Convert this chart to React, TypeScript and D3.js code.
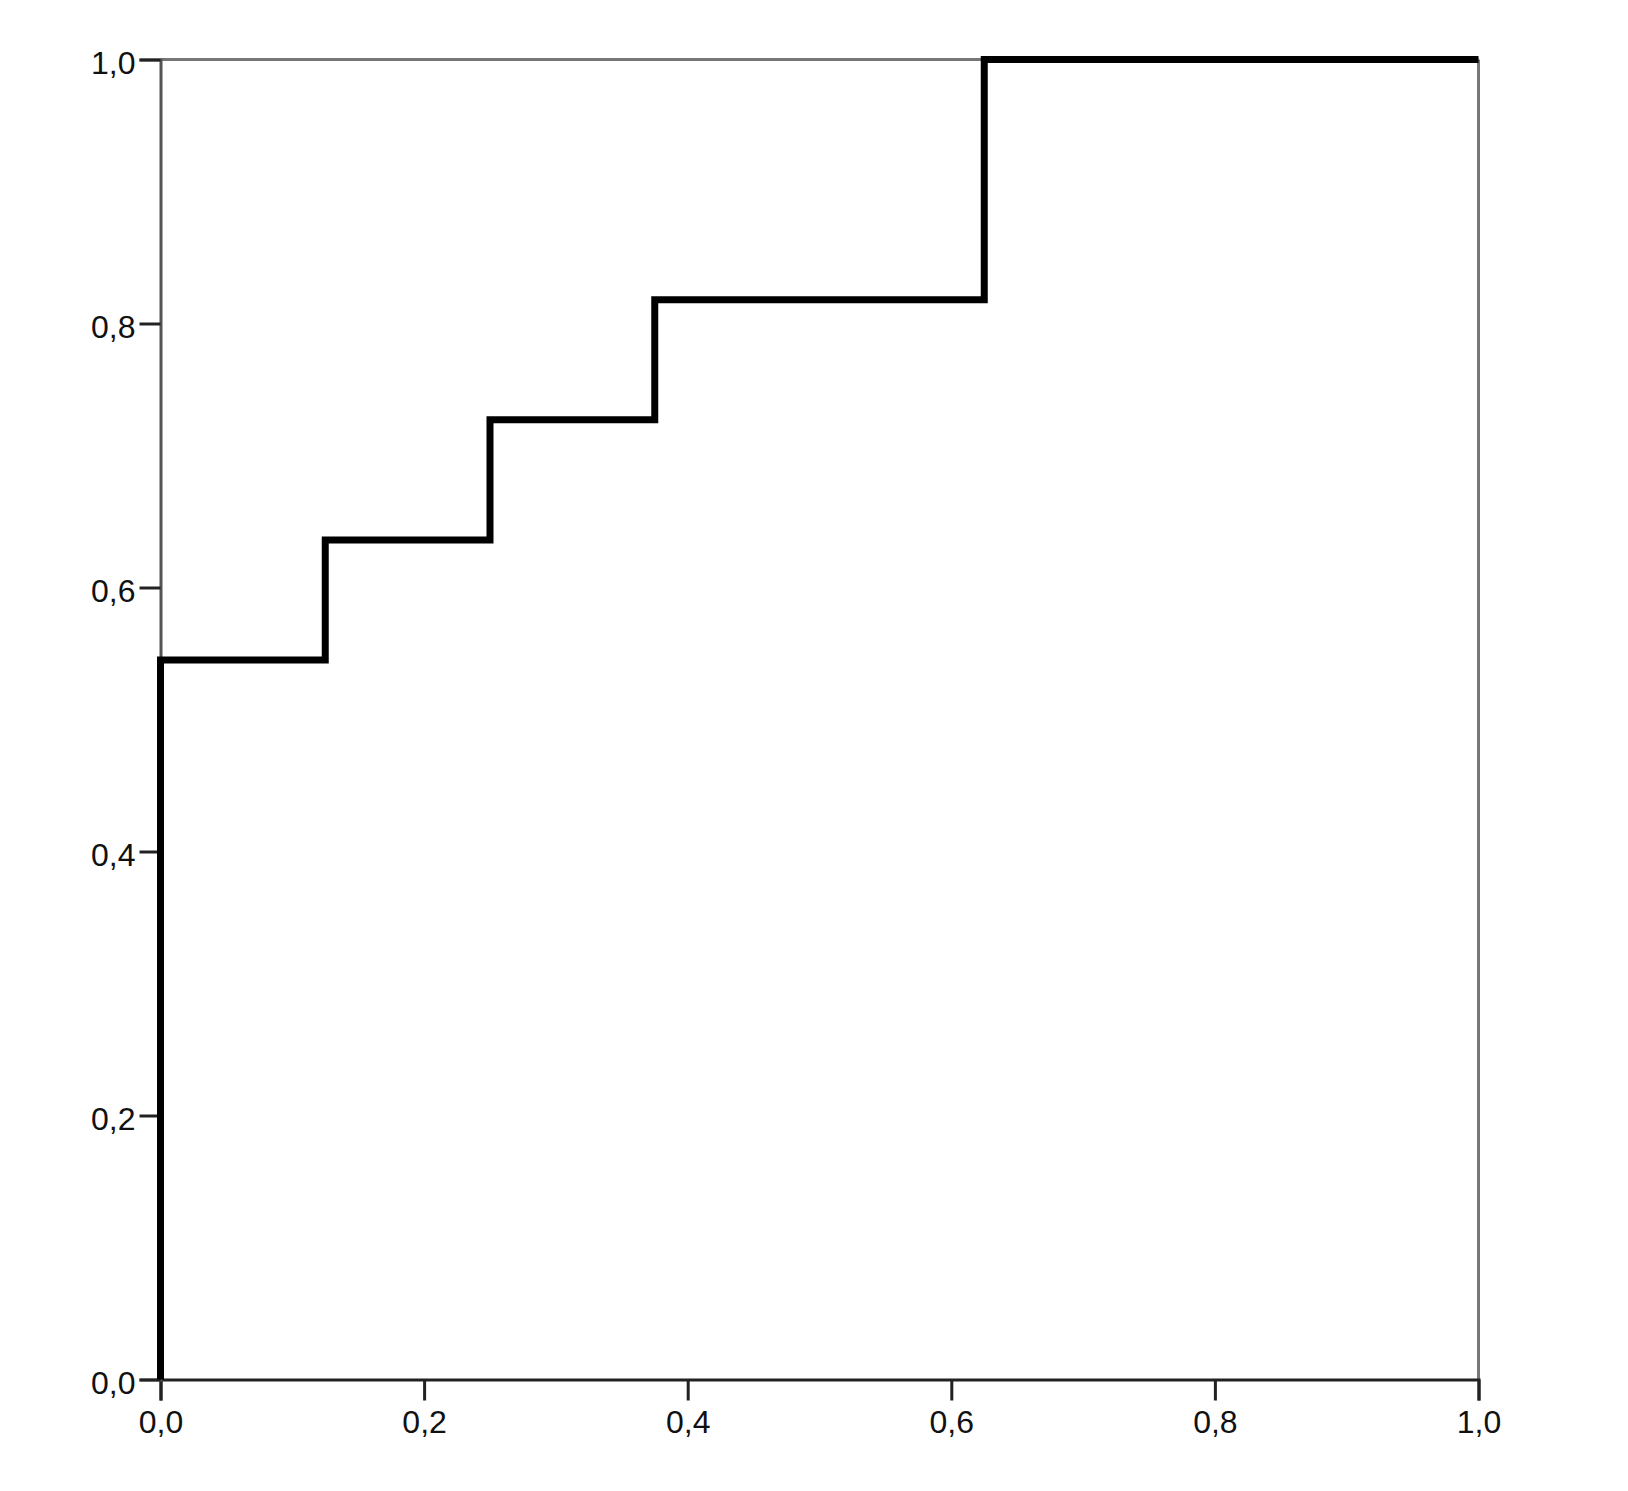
import React, { useRef, useEffect } from 'react';
import * as d3 from 'd3';

// ROC curve: 1 - specificity (x) vs sensitivity (y)
const fprValues = [0, 0, 0.125, 0.125, 0.25, 0.25, 0.375, 0.375, 0.625, 0.625, 1];
const tprValues = [0, 0.545, 0.545, 0.636, 0.636, 0.727, 0.727, 0.818, 0.818, 1, 1];
const tickValues = [0, 0.2, 0.4, 0.6, 0.8, 1.0];

const App = () => {
  const svgRef = useRef<SVGSVGElement>(null);

  useEffect(() => {
    const svg = d3.select(svgRef.current);
    svg.selectAll('*').remove();

    const width = 1628;
    const height = 1491;
    const margin = { top: 59.5, left: 160.5, right: 1628 - 1478.5, bottom: 1491 - 1379.5 };

    svg.attr('width', width).attr('height', height);

    const x = d3.scaleLinear().domain([0, 1]).range([margin.left, width - margin.right]);
    const y = d3.scaleLinear().domain([0, 1]).range([height - margin.bottom, margin.top]);

    const fmt = (d: number) => d.toFixed(1).replace('.', ',');

    // frame (top and right)
    svg.append('line')
      .attr('x1', x(0)).attr('x2', x(1)).attr('y1', y(1)).attr('y2', y(1))
      .attr('stroke', '#777').attr('stroke-width', 3);
    svg.append('line')
      .attr('x1', x(1)).attr('x2', x(1)).attr('y1', y(1)).attr('y2', y(0))
      .attr('stroke', '#777').attr('stroke-width', 3);

    // X axis
    const xAxis = svg.append('g')
      .attr('transform', `translate(0,${y(0)})`)
      .call(d3.axisBottom(x).tickValues(tickValues).tickFormat(d => fmt(d as number)).tickSize(21).tickPadding(10));
    xAxis.select('.domain').attr('stroke', '#222').attr('stroke-width', 3);
    xAxis.selectAll('.tick line').attr('stroke', '#222').attr('stroke-width', 3);
    xAxis.selectAll('.tick text')
      .attr('fill', '#111')
      .style('font-family', '"Liberation Sans", Arial, sans-serif')
      .style('font-size', '32px');

    // Y axis
    const yAxis = svg.append('g')
      .attr('transform', `translate(${x(0)},0)`)
      .call(d3.axisLeft(y).tickValues(tickValues).tickFormat(d => fmt(d as number)).tickSize(21).tickPadding(4));
    yAxis.select('.domain').attr('stroke', '#555').attr('stroke-width', 3);
    yAxis.selectAll('.tick line').attr('stroke', '#222').attr('stroke-width', 3);
    yAxis.selectAll('.tick text')
      .attr('fill', '#111')
      .attr('dy', '0.45em')
      .style('font-family', '"Liberation Sans", Arial, sans-serif')
      .style('font-size', '32px');

    // ROC step line
    const points = fprValues.map((v, i) => [v, tprValues[i]] as [number, number]);
    const line = d3.line<[number, number]>()
      .x(d => x(d[0]))
      .y(d => y(d[1]));
    svg.append('path')
      .datum(points)
      .attr('d', line)
      .attr('fill', 'none')
      .attr('stroke', '#000')
      .attr('stroke-width', 7)
      .attr('stroke-linejoin', 'miter')
      .attr('stroke-linecap', 'butt');
  }, []);

  return (
    <div style={{ position: 'absolute', left: 0, top: 0, background: '#fff' }}>
      <svg ref={svgRef} style={{ display: 'block' }}></svg>
    </div>
  );
};

export default App;
